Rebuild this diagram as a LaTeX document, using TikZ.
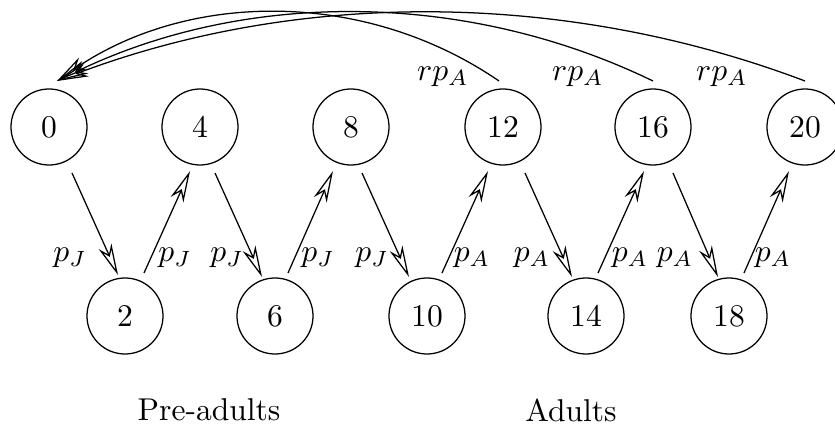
\documentclass[tikz,border=0pt]{standalone}
\usetikzlibrary{arrows.meta,calc}
\begin{document}
\begin{tikzpicture}[x=0.317pt,y=-0.317pt,
  state/.style={draw,circle,minimum size=24.1pt,inner sep=0pt,line width=0.4pt},
  trans/.style={line width=0.4pt,-{Stealth[open,length=10pt,width=4.4pt,inset=3pt]}},
  lbl/.style={inner sep=0pt}]
\useasboundingbox (0,0) rectangle (835,430);

% upper row of states
\node[state] (n0)  at (49,127)  {0};
\node[state] (n4)  at (200,127) {4};
\node[state] (n8)  at (351,127) {8};
\node[state] (n12) at (503,127) {12};
\node[state] (n16) at (653,127) {16};
\node[state] (n20) at (805,127) {20};

% lower row of states
\node[state] (n2)  at (125,316) {2};
\node[state] (n6)  at (275,316) {6};
\node[state] (n10) at (427,316) {10};
\node[state] (n14) at (586,316) {14};
\node[state] (n18) at (729,316) {18};

% zig-zag transitions
\draw[trans] ($(n0)+(23,46)$)   -- ($(n2)+(-7,-41)$);
\draw[trans] ($(n2)+(19,-43)$)  -- ($(n4)+(-10,44)$);
\draw[trans] ($(n4)+(15,46)$)   -- ($(n6)+(-13,-39)$);
\draw[trans] ($(n6)+(13,-43)$)  -- ($(n8)+(-18,44)$);
\draw[trans] ($(n8)+(11,46)$)   -- ($(n10)+(-18,-39)$);
\draw[trans] ($(n10)+(15,-43)$) -- ($(n12)+(-15,44)$);
\draw[trans] ($(n12)+(22,46)$)  -- ($(n14)+(-14,-39)$);
\draw[trans] ($(n14)+(12,-43)$) -- ($(n16)+(-9,44)$);
\draw[trans] ($(n16)+(20,46)$)  -- ($(n18)+(-11,-39)$);
\draw[trans] ($(n18)+(15,-43)$) -- ($(n20)+(-16,44)$);

% reproduction arcs back to state 0
\coordinate (ret) at ($(n0)+(8,-46)$);
\draw[trans] ($(n12)+(-4,-46)$) .. controls (366.4,-10) and (189.6,-10) .. (ret);
\draw[trans] ($(n16)+(0,-46)$)  .. controls (465.3,-10) and (244.7,-10) .. (ret);
\draw[trans] ($(n20)+(0,-46)$)  .. controls (564.4,-10) and (297.6,-10) .. (ret);

% transition labels
\node[lbl] (l1)  at (70,258)  {$p_J$};
\node[lbl] (l2)  at (175,258) {$p_J$};
\node[lbl] (l3)  at (227,258) {$p_J$};
\node[lbl] (l4)  at (318,258) {$p_J$};
\node[lbl] (l5)  at (372,258) {$p_J$};
\node[lbl] (l6)  at (472,258) {$p_A$};
\node[lbl] (l7)  at (532,258) {$p_A$};
\node[lbl] (l8)  at (630,258) {$p_A$};
\node[lbl] (l9)  at (675,258) {$p_A$};
\node[lbl] (l10) at (773,258) {$p_A$};

\node[lbl] (r1) at (443,77) {$rp_A$};
\node[lbl] (r2) at (578,77) {$rp_A$};
\node[lbl] (r3) at (722,77) {$rp_A$};

% group captions
\node[lbl] (pre) at (209,410) {Pre-adults};
\node[lbl] (ad)  at (571,410) {Adults};
\end{tikzpicture}
\end{document}
